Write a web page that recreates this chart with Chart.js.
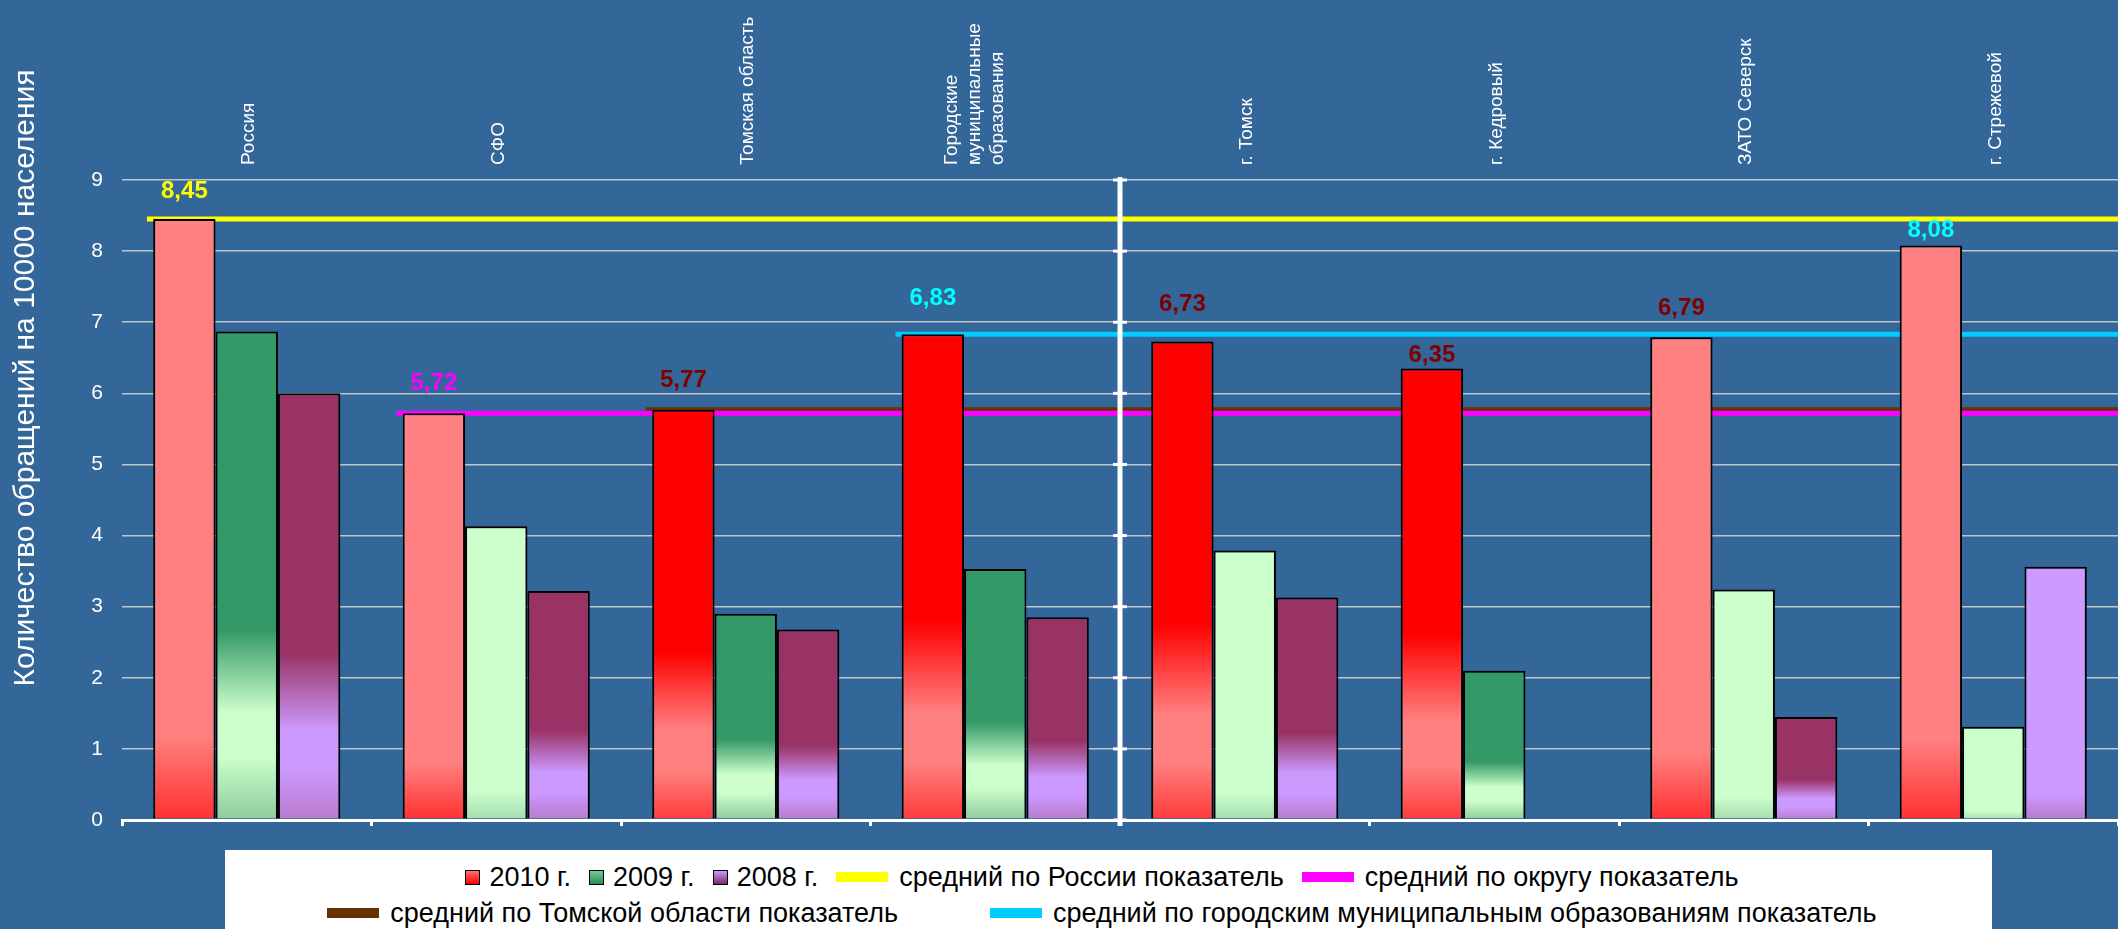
<!DOCTYPE html>
<html><head><meta charset="utf-8">
<script src="https://cdn.jsdelivr.net/npm/chart.js@4/dist/chart.umd.min.js"></script>
<style>
html,body{margin:0;padding:0;background:#336699;overflow:hidden}
#wrap{position:relative;width:2118px;height:929px}
canvas{display:block}
#legend{position:absolute;left:225px;top:850px;width:1767px;height:79px;background:#fff;font-family:'Liberation Sans',Arial,sans-serif;font-size:27px;color:#000}
.row{position:absolute;left:0;right:13px;height:30px;display:flex;justify-content:center;align-items:center;white-space:nowrap}
.item{display:flex;align-items:center}
.sq{width:13px;height:13px;border:1px solid #000;margin-right:9px}
.ln{width:52px;height:10px;margin-right:11px}
</style></head>
<body>
<div id="wrap"><canvas id="c" width="2118" height="929"></canvas><div id="legend"></div></div>
<script>
// ---- data ----
const categories = ['Россия', 'СФО', 'Томская область', ['Городские', 'муниципальные', 'образования'], 'г. Томск', 'г. Кедровый', 'ЗАТО Северск', 'г. Стрежевой'];
const seriesNames = ['2010 г.', '2009 г.', '2008 г.'];
const values2010 = [8.45, 5.72, 5.77, 6.83, 6.73, 6.35, 6.79, 8.08];
const values2009 = [6.87, 4.13, 2.90, 3.53, 3.79, 2.10, 3.24, 1.31];
const values2008 = [6.00, 3.22, 2.68, 2.85, 3.13, null, 1.45, 3.56];
const avgNames = ['средний по России показатель', 'средний по округу показатель', 'средний по Томской области показатель', 'средний по городским муниципальным образованиям показатель'];
const avgValues = [8.45, 5.72, 5.77, 6.83];
const avgStartCategory = [0, 1, 2, 3];
const yMin = 0, yMax = 9, yStep = 1;
const yTitle = 'Количество обращений на 10000 населения';

// ---- styles ----
const FONT = "'Liberation Sans', Arial, sans-serif";
const catPct = 0.75;
const gradients = {
  redPink:  [[0,'#FF3030'],[0.14,'#FF8080'],[1,'#FF8080']],
  redVivid: [[0,'#FF3A3A'],[0.12,'#FF8080'],[0.22,'#FF8080'],[0.41,'#FF0000'],[1,'#FF0000']],
  greenDark:[[0,'#8FCB9C'],[0.13,'#CCFFCC'],[0.22,'#CCFFCC'],[0.39,'#339966'],[1,'#339966']],
  greenLight:[[0,'#A5DBAF'],[0.1,'#CCFFCC'],[1,'#CCFFCC']],
  purpleDark:[[0,'#B87ACC'],[0.12,'#CC99FF'],[0.21,'#CC99FF'],[0.39,'#993366'],[1,'#993366']],
  purpleLight:[[0,'#B87ACC'],[0.1,'#CC99FF'],[1,'#CC99FF']]
};
const variants2010 = ['redPink','redPink','redVivid','redVivid','redVivid','redVivid','redPink','redPink'];
const variants2009 = ['greenDark','greenLight','greenDark','greenDark','greenLight','greenDark','greenLight','greenLight'];
const variants2008 = ['purpleDark','purpleDark','purpleDark','purpleDark','purpleDark','purpleDark','purpleDark','purpleLight'];
const avgColors = ['#FFFF00', '#FF00FF', '#663300', '#00CCFF'];
const avgOrder = [4, 1, 2, 3];
const labelColors = ['#FFFF00', '#FF00FF', '#800000', '#00FFFF', '#800000', '#800000', '#800000', '#00FFFF'];
const labelLift = [28, 30, 29, 36, 37, 13, 29, 15];
const legendMarkers = ['linear-gradient(#FF7070,#FF0000)', 'linear-gradient(#70CC90,#2E8B57)', 'linear-gradient(#CC99FF,#7A2A70)'];

function gradFill(variants, fallback) {
  return (c) => {
    const chart = c.chart;
    if (!chart.chartArea || c.type !== 'data' || c.raw == null) return fallback;
    const ys = chart.scales.y;
    const yb = ys.getPixelForValue(0), yt = ys.getPixelForValue(c.raw);
    if (!isFinite(yb) || !isFinite(yt) || yb === yt) return fallback;
    const g = chart.ctx.createLinearGradient(0, yb, 0, yt);
    gradients[variants[c.dataIndex]].forEach(([f, col]) => g.addColorStop(f, col));
    return g;
  };
}

const barBase = {type: 'bar', categoryPercentage: catPct, barPercentage: 1, borderColor: '#000', borderWidth: 2, order: 0};
const datasets = [
  Object.assign({}, barBase, {label: seriesNames[0], data: values2010, backgroundColor: gradFill(variants2010, '#FF8080')}),
  Object.assign({}, barBase, {label: seriesNames[1], data: values2009, backgroundColor: gradFill(variants2009, '#339966')}),
  Object.assign({}, barBase, {label: seriesNames[2], data: values2008, backgroundColor: gradFill(variants2008, '#993366')})
];
// average lines: on the same category axis, positions in category-index units
// (category k spans k-0.5 .. k+0.5); they start at the left edge of the group
avgValues.forEach((v, i) => {
  datasets.push({
    type: 'line', label: avgNames[i], parsing: false,
    data: [{x: avgStartCategory[i] - 0.5 + (1 - catPct) / 2 - 0.025, y: v}, {x: categories.length - 0.5, y: v}],
    borderColor: avgColors[i], backgroundColor: avgColors[i], borderWidth: 5, pointRadius: 0, fill: false, order: avgOrder[i], borderCapStyle: 'butt'
  });
});

const bgPlugin = {
  id: 'bg',
  beforeDraw(chart) {
    const ctx = chart.ctx; ctx.save(); ctx.fillStyle = '#336699'; ctx.fillRect(0, 0, chart.width, chart.height); ctx.restore();
  }
};
const yTitlePlugin = {
  id: 'ytitle',
  afterDraw(chart) {
    const ctx = chart.ctx; ctx.save();
    ctx.translate(26, 378); ctx.rotate(-Math.PI / 2);
    ctx.font = '30px ' + FONT; ctx.fillStyle = '#FFFFFF'; ctx.textAlign = 'center'; ctx.textBaseline = 'middle';
    ctx.fillText(yTitle, 0, 0); ctx.restore();
  }
};
const dividerPlugin = {
  id: 'divider',
  afterDatasetsDraw(chart) {
    const xs = chart.scales.x, ys = chart.scales.y, ctx = chart.ctx;
    const x = (xs.getPixelForValue(3) + xs.getPixelForValue(4)) / 2;
    ctx.save(); ctx.strokeStyle = '#FFFFFF';
    ctx.lineWidth = 5; ctx.beginPath();
    ctx.moveTo(x, ys.getPixelForValue(yMax) - 3); ctx.lineTo(x, ys.getPixelForValue(yMin) + 6); ctx.stroke();
    ctx.lineWidth = 3;
    for (let v = yMin; v <= yMax; v += yStep) {
      const y = ys.getPixelForValue(v);
      ctx.beginPath(); ctx.moveTo(x - 7, y); ctx.lineTo(x + 7, y); ctx.stroke();
    }
    ctx.restore();
  }
};
const labelPlugin = {
  id: 'vlabels',
  afterDatasetsDraw(chart) {
    const meta = chart.getDatasetMeta(0), ctx = chart.ctx;
    ctx.save(); ctx.font = 'bold 24px ' + FONT; ctx.textAlign = 'center'; ctx.textBaseline = 'middle';
    meta.data.forEach((el, i) => {
      ctx.fillStyle = labelColors[i];
      ctx.fillText(values2010[i].toFixed(2).replace('.', ','), el.x, el.y - labelLift[i]);
    });
    ctx.restore();
  }
};

const chart = new Chart(document.getElementById('c'), {
  type: 'bar',
  data: {labels: categories, datasets},
  options: {
    responsive: false, animation: false, devicePixelRatio: 1,
    layout: {padding: {top: 0, left: 0, right: 0, bottom: 103}},
    plugins: {legend: {display: false}, tooltip: {enabled: false}},
    scales: {
      x: {
        type: 'category', position: 'top', offset: true,
        grid: {display: false}, border: {display: false},
        ticks: {color: '#FFFFFF', font: {family: FONT, size: 19}, minRotation: 90, maxRotation: 90, autoSkip: false, padding: 7, labelOffset: 25},
        afterFit(s) { s.height = 180; }
      },
      xb: {
        type: 'category', position: 'bottom', offset: true, labels: categories,
        grid: {offset: true, drawOnChartArea: false, color: '#FFFFFF', lineWidth: 3, tickLength: 6},
        border: {display: true, color: '#FFFFFF', width: 3},
        ticks: {display: false},
        afterFit(s) { s.height = 6; }
      },
      y: {
        min: yMin, max: yMax,
        ticks: {stepSize: yStep, color: '#FFFFFF', font: {family: FONT, size: 21}, padding: 19},
        grid: {drawTicks: false, color: (c) => (c.tick && c.tick.value === 0) ? '#FFFFFF' : '#C0C4CC', lineWidth: (c) => (c.tick && c.tick.value === 0) ? 3 : 1.5},
        border: {display: false},
        afterFit(s) { s.width = 122; }
      }
    }
  },
  plugins: [bgPlugin, yTitlePlugin, dividerPlugin, labelPlugin]
});

// HTML legend built from the chart's datasets
const legend = document.getElementById('legend');
const rows = [[0, 1, 2, 3, 4], [5, 6]];
const rowTops = [12, 48];
const rowGaps = [18, 92];
rows.forEach((idxs, r) => {
  const row = document.createElement('div');
  row.className = 'row'; row.style.top = rowTops[r] + 'px'; row.style.gap = rowGaps[r] + 'px';
  idxs.forEach((di) => {
    const ds = chart.data.datasets[di];
    const it = document.createElement('div'); it.className = 'item';
    const m = document.createElement('span');
    if (ds.type === 'bar') { m.className = 'sq'; m.style.background = legendMarkers[di]; }
    else { m.className = 'ln'; m.style.background = ds.borderColor; }
    const t = document.createElement('span'); t.textContent = ds.label;
    it.appendChild(m); it.appendChild(t); row.appendChild(it);
  });
  legend.appendChild(row);
});
</script>
</body></html>
